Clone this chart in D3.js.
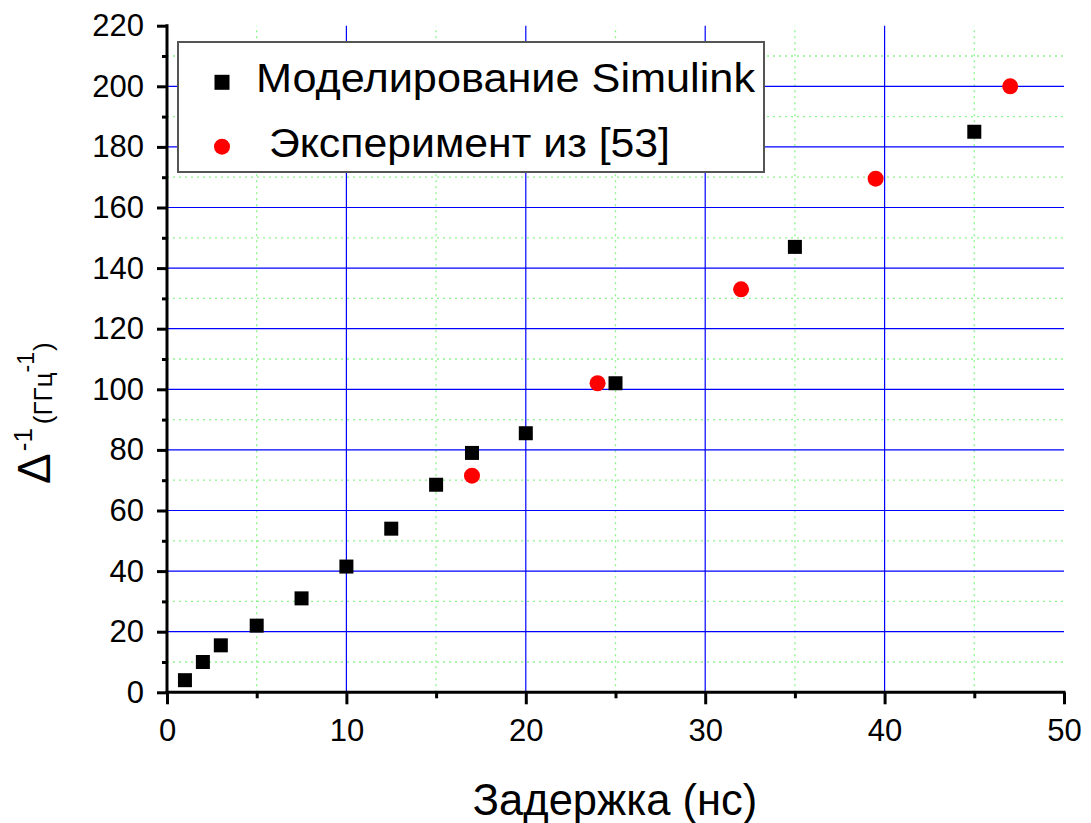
<!DOCTYPE html>
<html><head><meta charset="utf-8">
<script src="https://cdn.jsdelivr.net/npm/d3@7"></script>
<style>body{margin:0;background:#fff}svg{display:block}text{font-family:"Liberation Sans",Arial,sans-serif}</style>
</head><body>
<script>
const simX = [1, 2, 3, 5, 7.5, 10, 12.5, 15, 17, 20, 25, 35, 45];
const simY = [4, 10, 15.5, 22, 31, 41.5, 54, 68.5, 79, 85.5, 102, 147, 185];
const expX = [17, 24, 32, 39.5, 47];
const expY = [71.5, 102, 133, 169.5, 200];
const xTicks = [0, 10, 20, 30, 40, 50];
const yTicks = [0, 20, 40, 60, 80, 100, 120, 140, 160, 180, 200, 220];
const legendLabels = ["Моделирование Simulink", " Эксперимент из [53]"];

const W = 1091, H = 823;
const L = 167, R = 1064, T = 25.7, B = 692.3;
const svg = d3.select("body").append("svg").attr("width", W).attr("height", H);
const x = d3.scaleLinear().domain([0, 50]).range([L, R]);
const y = d3.scaleLinear().domain([0, 220]).range([B, T]);

// minor grid
const g = svg.append("g");
d3.range(5, 50, 10).forEach(v => g.append("line").attr("x1", x(v)).attr("x2", x(v)).attr("y1", B).attr("y2", T)
  .attr("stroke", "#8cf58c").attr("stroke-width", 1.3).attr("stroke-dasharray", "2,4"));
d3.range(10, 220, 20).forEach(v => g.append("line").attr("x1", L).attr("x2", R).attr("y1", y(v)).attr("y2", y(v))
  .attr("stroke", "#8cf58c").attr("stroke-width", 1.3).attr("stroke-dasharray", "2,4"));
// major grid
[10, 20, 30, 40].forEach(v => g.append("line").attr("x1", x(v)).attr("x2", x(v)).attr("y1", B).attr("y2", T)
  .attr("stroke", "#0000ff").attr("stroke-width", 1.2));
d3.range(20, 220, 20).forEach(v => g.append("line").attr("x1", L).attr("x2", R).attr("y1", y(v)).attr("y2", y(v))
  .attr("stroke", "#0000ff").attr("stroke-width", 1.2));

// axes
const xAxis = d3.axisBottom(x).tickValues(xTicks).tickSize(12).tickPadding(15).tickFormat(d3.format("d"));
const xMinor = d3.axisBottom(x).tickValues(d3.range(5, 50, 10)).tickSize(6).tickFormat("");
const yAxis = d3.axisLeft(y).tickValues(yTicks).tickSize(10).tickPadding(13).tickFormat(d3.format("d"));
const yMinor = d3.axisLeft(y).tickValues(d3.range(10, 220, 20)).tickSize(5).tickFormat("");

function style(sel) {
  sel.selectAll("path").attr("stroke", "#000").attr("stroke-width", 3);
  sel.selectAll("line").attr("stroke", "#000").attr("stroke-width", 3);
  sel.selectAll("text").attr("fill", "#000").style("font-size", "31px").style("font-family", '"Liberation Sans",Arial,sans-serif');
}
const gx = svg.append("g").attr("transform", `translate(0,${B})`).call(xAxis); style(gx);
const gxm = svg.append("g").attr("transform", `translate(0,${B})`).call(xMinor); style(gxm); gxm.select("path").remove();
const gy = svg.append("g").attr("transform", `translate(${L},0)`).call(yAxis); style(gy);
const gym = svg.append("g").attr("transform", `translate(${L},0)`).call(yMinor); style(gym); gym.select("path").remove();
gx.select("path").attr("d", `M${L-1.5},0H${R+1.5}`);
gy.select("path").attr("d", `M0,${B+1.5}V${T-1.5}`);

// data
const sq = 14;
svg.append("g").selectAll("rect").data(simX.map((d, i) => [d, simY[i]])).join("rect")
  .attr("x", d => x(d[0]) - sq / 2).attr("y", d => y(d[1]) - sq / 2).attr("width", sq).attr("height", sq).attr("fill", "#000");
svg.append("g").selectAll("circle").data(expX.map((d, i) => [d, expY[i]])).join("circle")
  .attr("cx", d => x(d[0])).attr("cy", d => y(d[1])).attr("r", 8).attr("fill", "#ff0000");

// legend
const lg = svg.append("g");
lg.append("rect").attr("x", 178).attr("y", 42).attr("width", 586).attr("height", 130).attr("fill", "#fff")
  .attr("stroke", "#555").attr("stroke-width", 2);
lg.append("rect").attr("x", 222 - 7.5).attr("y", 82.3 - 7.5).attr("width", 15).attr("height", 15).attr("fill", "#000");
lg.append("circle").attr("cx", 222).attr("cy", 146.7).attr("r", 8).attr("fill", "#ff0000");
lg.append("text").attr("x", 256).attr("y", 92).style("font-size", "40px")
  .attr("textLength", 499).attr("lengthAdjust", "spacingAndGlyphs").text(legendLabels[0]);
lg.append("text").attr("x", 257).attr("y", 157).style("font-size", "40px").style("white-space", "pre")
  .attr("textLength", 413).attr("lengthAdjust", "spacingAndGlyphs").text(legendLabels[1]);

// axis titles
svg.append("text").attr("x", 615).attr("y", 815).attr("text-anchor", "middle").style("font-size", "43.5px").text("Задержка (нс)");
const yt = svg.append("text").attr("transform", "translate(50,484) rotate(-90)").attr("text-anchor", "start");
yt.append("tspan").style("font-size", "46px").text("Δ");
yt.append("tspan").style("font-size", "26px").attr("dy", -18).attr("dx", 2).text("-1");
yt.append("tspan").style("font-size", "26px").attr("dy", 20).attr("dx", 4).text("(ГГц");
yt.append("tspan").style("font-size", "23px").attr("dy", -18).text("-1");
yt.append("tspan").style("font-size", "26px").attr("dy", 18).attr("dx", 1).text(")");
</script>
</body></html>
